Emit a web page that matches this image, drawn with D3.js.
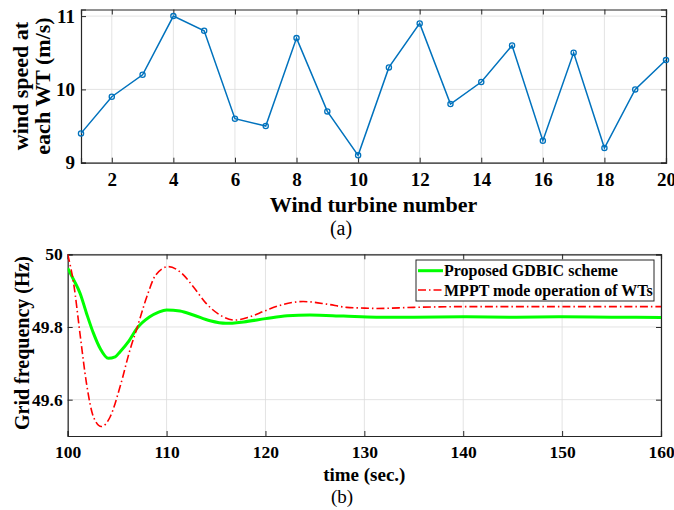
<!DOCTYPE html>
<html>
<head>
<meta charset="utf-8">
<script src="https://cdn.jsdelivr.net/npm/d3@7"></script>
<style>
  body { margin: 0; background: #fff; }
  svg { display: block; }
  text { font-family: "Liberation Serif", "Times New Roman", serif; fill: #000; }
</style>
</head>
<body>
<svg id="fig" width="674" height="510"></svg>
<script>
// (a) wind speed at each turbine
const turbines = d3.range(1, 21)
const windSpeed = [9.4, 9.9, 10.2, 11, 10.8, 9.6, 9.5, 10.7, 9.7, 9.1,
                   10.3, 10.9, 9.8, 10.1, 10.6, 9.3, 10.5, 9.2, 10.0, 10.4]
const xTicksA = [2, 4, 6, 8, 10, 12, 14, 16, 18, 20]
const yTicksA = [9, 10, 11]

// (b) grid frequency response
const tGreen = [100, 100.6, 101.25, 101.9, 102.6, 103.3, 104.1, 104.8, 105.3, 106.2, 107, 108.3, 109.2, 110,
                111.35, 112.7, 114.4, 116, 117.8, 120, 122.2, 124.5, 127.9, 131.2, 135, 140, 145, 150, 155, 160]
const fGreen = [49.962, 49.93, 49.893, 49.838, 49.783, 49.74, 49.714, 49.718, 49.732, 49.762, 49.796, 49.828, 49.841, 49.847,
                49.844, 49.833, 49.817, 49.810, 49.814, 49.823, 49.831, 49.833, 49.830, 49.827, 49.827, 49.828, 49.827, 49.828, 49.827, 49.826]
const tRed = [100, 100.6, 101.25, 101.9, 102.6, 103.4, 104.3, 105.3, 106.3, 107, 108, 108.9, 110.2,
              111.35, 112.7, 114, 115.4, 116.9, 118.4, 120, 121.8, 123.8, 126.2, 128.2, 130, 131.2, 135, 140, 150, 160]
const fRed = [50.0, 49.92, 49.78, 49.645, 49.553, 49.526, 49.553, 49.636, 49.737, 49.796, 49.883, 49.943, 49.966,
              49.952, 49.911, 49.865, 49.833, 49.819, 49.828, 49.845, 49.862, 49.870, 49.863, 49.854, 49.852, 49.851, 49.854, 49.856, 49.856, 49.856]
const xTicksB = [100, 110, 120, 130, 140, 150, 160]
const yTicksB = [49.6, 49.8, 50]
const legendLabels = ["Proposed GDBIC scheme", "MPPT mode operation of WTs"]

const svg = d3.select("#fig")
const gridColor = "#dcdcdc"
const frameColor = "#262626"

function panel(x, y, opts) {
  const [x0, x1] = x.range()
  const [y0, y1] = y.range()
  const g = svg.append("g")
  // grid
  g.append("g").selectAll("line").data(opts.xt).join("line")
    .attr("x1", d => x(d)).attr("x2", d => x(d)).attr("y1", y0).attr("y2", y1)
    .attr("stroke", gridColor).attr("stroke-width", 0.8)
  g.append("g").selectAll("line").data(opts.yt).join("line")
    .attr("y1", d => y(d)).attr("y2", d => y(d)).attr("x1", x0).attr("x2", x1)
    .attr("stroke", gridColor).attr("stroke-width", 0.8)
  const tick = 5
  // axes, ticks pointing inward on all four sides
  const bottom = g.append("g").attr("transform", `translate(0,${y0})`)
    .call(d3.axisBottom(x).tickValues(opts.xt).tickSize(-tick).tickPadding(opts.xpad).tickFormat(d3.format("d")))
  const top = g.append("g").attr("transform", `translate(0,${y1})`)
    .call(d3.axisTop(x).tickValues(opts.xt).tickSize(-tick).tickFormat(""))
  const left = g.append("g").attr("transform", `translate(${x0},0)`)
    .call(d3.axisLeft(y).tickValues(opts.yt).tickSize(-tick).tickPadding(opts.ypad).tickFormat(d => String(d)))
  const right = g.append("g").attr("transform", `translate(${x1},0)`)
    .call(d3.axisRight(y).tickValues(opts.yt).tickSize(-tick).tickFormat(""))
  ;[bottom, top, left, right].forEach(a => {
    a.select(".domain").attr("stroke", frameColor).attr("stroke-width", 1.2)
    a.selectAll(".tick line").attr("stroke", frameColor).attr("stroke-width", 1)
    a.selectAll("text").attr("font-family", "Liberation Serif").attr("font-weight", "bold")
      .attr("font-size", opts.tickSize).attr("fill", "#262626")
  })
  return g
}

// ---------- panel (a)
const xA = d3.scaleLinear().domain([1, 20]).range([81, 666])
const yA = d3.scaleLinear().domain([9, 11.09]).range([162.7, 9.5])
const gA = panel(xA, yA, { xt: xTicksA, yt: yTicksA, tickSize: 19, xpad: 10, ypad: 6 })

const lineA = d3.line().x((d, i) => xA(turbines[i])).y(d => yA(d))
gA.append("path").datum(windSpeed).attr("d", lineA)
  .attr("fill", "none").attr("stroke", "#0072BD").attr("stroke-width", 1.5)
gA.selectAll("circle.m").data(windSpeed).join("circle").attr("class", "m")
  .attr("cx", (d, i) => xA(turbines[i])).attr("cy", d => yA(d)).attr("r", 2.6)
  .attr("fill", "none").attr("stroke", "#0072BD").attr("stroke-width", 1.3)

svg.append("text").attr("x", 373.5).attr("y", 212).attr("text-anchor", "middle")
  .attr("font-weight", "bold").attr("font-size", 22).text("Wind turbine number")
svg.append("text").attr("x", 341).attr("y", 235).attr("text-anchor", "middle")
  .attr("font-size", 20).text("(a)")
const ylabA = svg.append("text").attr("transform", "translate(0,86) rotate(-90)")
  .attr("text-anchor", "middle").attr("font-weight", "bold").attr("font-size", 22)
ylabA.append("tspan").attr("x", 0).attr("y", 28).text("wind speed at")
ylabA.append("tspan").attr("x", 0).attr("y", 50).text("each WT (m/s)")

// ---------- panel (b)
const xB = d3.scaleLinear().domain([100, 160]).range([67.7, 661])
const yB = d3.scaleLinear().domain([49.5, 50]).range([436, 254.3])
const gB = panel(xB, yB, { xt: xTicksB, yt: yTicksB, tickSize: 17.5, xpad: 10, ypad: 5 })

svg.append("clipPath").attr("id", "clipB").append("rect")
  .attr("x", 67.7).attr("y", 254.3).attr("width", 661 - 67.7).attr("height", 436 - 254.3)
const curveLine = ts => d3.line().curve(d3.curveMonotoneX).x((d, i) => xB(ts[i])).y(d => yB(d))
gB.append("path").datum(fGreen).attr("d", curveLine(tGreen)).attr("clip-path", "url(#clipB)")
  .attr("fill", "none").attr("stroke", "#00FF00").attr("stroke-width", 3)
gB.append("path").datum(fRed).attr("d", curveLine(tRed)).attr("clip-path", "url(#clipB)")
  .attr("fill", "none").attr("stroke", "#FF0000").attr("stroke-width", 1.6)
  .attr("stroke-dasharray", "8,3,1.5,3")

// legend
const leg = svg.append("g").attr("transform", "translate(416,260)")
leg.append("rect").attr("width", 238).attr("height", 41)
  .attr("fill", "#fff").attr("stroke", frameColor).attr("stroke-width", 1)
const legStyles = [
  { color: "#00FF00", w: 3, dash: null },
  { color: "#FF0000", w: 1.6, dash: "8,3,1.5,3" }
]
legendLabels.forEach((lab, i) => {
  const yy = 10.7 + i * 19.3
  leg.append("line").attr("x1", 2).attr("x2", 27).attr("y1", yy).attr("y2", yy)
    .attr("stroke", legStyles[i].color).attr("stroke-width", legStyles[i].w)
    .attr("stroke-dasharray", legStyles[i].dash)
  leg.append("text").attr("x", 28).attr("y", yy + 5.5).attr("font-weight", "bold")
    .attr("font-size", 16).attr("fill", "#262626").text(lab)
})

svg.append("text").attr("x", 364.3).attr("y", 481).attr("text-anchor", "middle")
  .attr("font-weight", "bold").attr("font-size", 19).text("time (sec.)")
svg.append("text").attr("x", 342).attr("y", 503).attr("text-anchor", "middle")
  .attr("font-size", 19).text("(b)")
svg.append("text").attr("transform", "translate(29,343) rotate(-90)")
  .attr("text-anchor", "middle").attr("font-weight", "bold").attr("font-size", 20)
  .text("Grid frequency (Hz)")
</script>
</body>
</html>
